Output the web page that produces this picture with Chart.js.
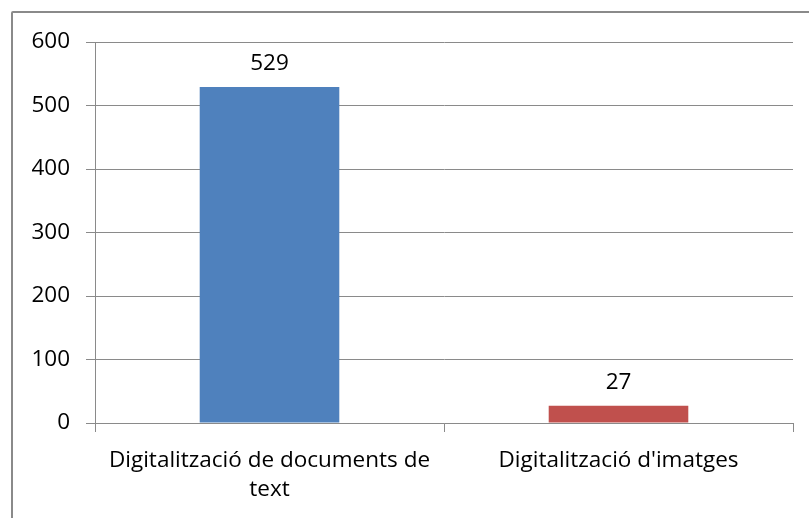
<!DOCTYPE html>
<html>
<head>
<meta charset="utf-8">
<script src="https://cdn.jsdelivr.net/npm/chart.js@4/dist/chart.umd.min.js"></script>
<style>
  html, body { margin: 0; padding: 0; background: #fff; overflow: hidden; }
  #frame {
    position: absolute; left: 11px; top: 11px;
    width: 900px; height: 600px;
    border: 2px solid #8a8a8a; border-radius: 2px;
  }
  #wrap { position: absolute; left: 0; top: 0; width: 809px; height: 518px; }
</style>
</head>
<body>
<div id="frame"></div>
<div id="wrap"><canvas id="myChart" width="809" height="518"></canvas></div>
<script>
(() => {
  'use strict'

  // Data
  const categories = [
    ['Digitalització de documents de', 'text'],
    "Digitalització d'imatges"
  ]
  const values = [529, 27]
  const barColors = ['#4F81BD', '#C0504D']
  const yTicks = [0, 100, 200, 300, 400, 500, 600]

  const font = { family: "'Open Sans', 'Liberation Sans', sans-serif", size: 22.5, lineHeight: 1.3 }

  // value labels above each bar
  const valueLabels = {
    id: 'valueLabels',
    afterDatasetsDraw (chart) {
      const { ctx } = chart
      const meta = chart.getDatasetMeta(0)
      ctx.save()
      ctx.font = font.size + 'px ' + font.family
      ctx.fillStyle = '#000'
      ctx.textAlign = 'center'
      ctx.textBaseline = 'alphabetic'
      meta.data.forEach((bar, i) => {
        ctx.fillText(String(values[i]), bar.x, bar.y - 17)
      })
      ctx.restore()
    }
  }

  const ctx = document.getElementById('myChart')
  // eslint-disable-next-line no-unused-vars
  const myChart = new Chart(ctx, {
    type: 'bar',
    data: {
      labels: categories,
      datasets: [{
        data: values,
        backgroundColor: barColors,
        borderWidth: 0,
        barPercentage: 0.4,
        categoryPercentage: 1
      }]
    },
    options: {
      responsive: false,
      animation: false,
      layout: { padding: { top: 42, right: 16, left: 0, bottom: 0 } },
      plugins: {
        legend: { display: false },
        tooltip: { enabled: false }
      },
      scales: {
        x: {
          afterFit (scale) { scale.height = 95 },
          grid: {
            drawOnChartArea: false,
            drawTicks: true,
            tickLength: 9,
            color: '#8a8a8a',
            offset: true
          },
          border: { color: '#8a8a8a', width: 1 },
          ticks: { color: '#000', font: font, padding: 14, maxRotation: 0 }
        },
        y: {
          min: 0,
          max: 600,
          afterFit (scale) { scale.width = 95 },
          afterBuildTicks (scale) { scale.ticks = yTicks.map(v => ({ value: v })) },
          grid: { color: '#8a8a8a', tickLength: 9, drawTicks: true },
          border: { color: '#8a8a8a', width: 1 },
          ticks: { color: '#000', font: font, padding: 16 }
        }
      }
    },
    plugins: [valueLabels]
  })
})()
</script>
</body>
</html>
